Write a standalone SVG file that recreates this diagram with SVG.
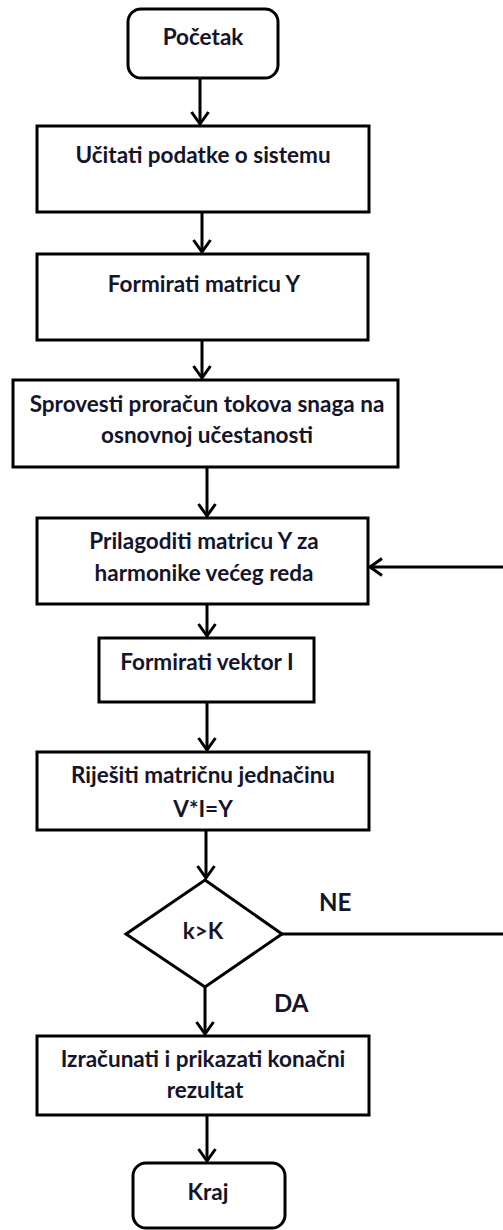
<svg xmlns="http://www.w3.org/2000/svg" width="503" height="1230" viewBox="0 0 503 1230">
<style>
.box{fill:#fff;stroke:#000;stroke-width:3}
.t{font-family:Lato,"Open Sans",sans-serif;font-weight:bold;font-size:22.5px;fill:#14142a;text-anchor:middle}
.lbl{font-family:Lato,"Open Sans",sans-serif;font-weight:bold;font-size:24px;fill:#14142a}
.c{fill:none;stroke:#000;stroke-width:3}
</style>
<defs>
<marker id="ah" markerUnits="userSpaceOnUse" markerWidth="24" markerHeight="24" refX="20" refY="12" orient="auto" viewBox="0 0 24 24">
<path d="M8,3.5 L20,12 L8,20.5" fill="none" stroke="#000" stroke-width="3"/>
</marker>
</defs>
<rect width="503" height="1230" fill="#fff"/>
<g id="connectors">
<path class="c" d="M200,78 V124" marker-end="url(#ah)"/>
<path class="c" d="M202,212 V252" marker-end="url(#ah)"/>
<path class="c" d="M202,340 V378" marker-end="url(#ah)"/>
<path class="c" d="M207,467 V516" marker-end="url(#ah)"/>
<path class="c" d="M207,604 V636" marker-end="url(#ah)"/>
<path class="c" d="M207,702 V750" stroke-width="4" marker-end="url(#ah)"/>
<path class="c" d="M206,830 V878" marker-end="url(#ah)"/>
<path class="c" d="M205,987 V1034" marker-end="url(#ah)"/>
<path class="c" d="M207,1115 V1161" marker-end="url(#ah)"/>
<path class="c" d="M282,934 H515 V567 H370" marker-end="url(#ah)"/>
<text class="lbl" x="319" y="911">NE</text>
<text class="lbl" x="274" y="1012">DA</text>
</g>
<g id="start">
<rect class="box" x="128" y="9" width="150" height="69" rx="13"/>
<text class="t" x="203" y="45">Početak</text>
</g>
<g id="load">
<rect class="box" x="37" y="126" width="332" height="86"/>
<text class="t" x="203" y="163">Učitati podatke o sistemu</text>
</g>
<g id="formY">
<rect class="box" x="37" y="254" width="331" height="86"/>
<text class="t" x="204" y="292">Formirati matricu Y</text>
</g>
<g id="loadflow">
<rect class="box" x="13" y="380" width="385" height="87"/>
<text class="t" x="207" y="412">Sprovesti proračun tokova snaga na</text>
<text class="t" x="207" y="443">osnovnoj učestanosti</text>
</g>
<g id="adapt">
<rect class="box" x="37" y="518" width="331" height="86"/>
<text class="t" x="204" y="549">Prilagoditi matricu Y za</text>
<text class="t" x="204" y="581">harmonike većeg reda</text>
</g>
<g id="vecI">
<rect class="box" x="99" y="638" width="215" height="64"/>
<text class="t" x="207" y="670">Formirati vektor I</text>
</g>
<g id="solve">
<rect class="box" x="37" y="752" width="332" height="78"/>
<text class="t" x="203" y="783">Riješiti matričnu jednačinu</text>
<text class="t" x="203" y="817">V*I=Y</text>
</g>
<g id="decision">
<polygon class="box" points="205,880 282,934 205,987 126,934"/>
<text class="t" x="203" y="939">k&gt;K</text>
</g>
<g id="result">
<rect class="box" x="37" y="1036" width="332" height="79"/>
<text class="t" x="203" y="1067">Izračunati i prikazati konačni</text>
<text class="t" x="205" y="1098">rezultat</text>
</g>
<g id="end">
<rect class="box" x="133" y="1163" width="152" height="65" rx="13"/>
<text class="t" x="208" y="1200">Kraj</text>
</g>
</svg>
